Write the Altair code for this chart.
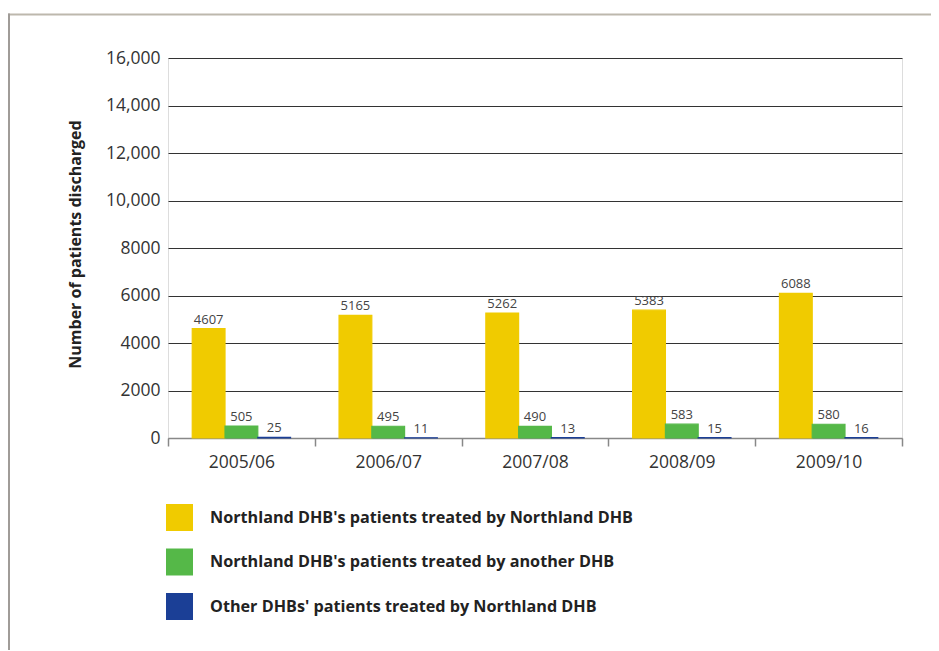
import altair as alt
import pandas as pd

years = ["2005/06", "2006/07", "2007/08", "2008/09", "2009/10"]
series = [
    "Northland DHB's patients treated by Northland DHB",
    "Northland DHB's patients treated by another DHB",
    "Other DHBs' patients treated by Northland DHB",
]
own_by_own = [4607, 5165, 5262, 5383, 6088]
own_by_other = [505, 495, 490, 583, 580]
other_by_own = [25, 11, 13, 15, 16]
colors = ["#F0CB00", "#55B848", "#1B3F96"]
y_ticks = [0, 2000, 4000, 6000, 8000, 10000, 12000, 14000, 16000]

rows = []
for s, vals in zip(series, [own_by_own, own_by_other, other_by_own]):
    for yr, v in zip(years, vals):
        rows.append({"year": yr, "series": s, "value": v})
df = pd.DataFrame(rows)

FONT = "Open Sans"

x_enc = alt.X("year:N", sort=years, title=None,
              scale=alt.Scale(paddingInner=0, paddingOuter=0),
              axis=alt.Axis(labelAngle=0, labelFontSize=17.5, labelColor="#333",
                            labelFont=FONT, labelPadding=7, tickBand="extent",
                            tickSize=8, tickColor="#888", domainColor="#888",
                            domainWidth=1.5, tickWidth=1.5, grid=False))
xoff = alt.XOffset("series:N", sort=series,
                   scale=alt.Scale(paddingOuter=0.74, paddingInner=0))
y_enc = alt.Y("value:Q", title="Number of patients discharged",
              scale=alt.Scale(domain=[0, 16000], nice=False),
              axis=alt.Axis(values=y_ticks, domain=False, ticks=False,
                            labelExpr="datum.value >= 10000 ? format(datum.value, ',') : format(datum.value, 'd')",
                            labelFontSize=17.5, labelColor="#333", labelFont=FONT,
                            labelPadding=8,
                            gridColor=alt.condition("datum.value == 0", alt.value("#888"), alt.value("#333")),
                            gridWidth=1,
                            titleFont=FONT, titleFontSize=16, titleFontWeight="bold",
                            titleColor="#222", titleX=-93, titleY=186,
                            titleAngle=-90, titleAlign="center", titleBaseline="middle"))

color_scale = alt.Scale(domain=series, range=colors)
base = alt.Chart(df)
bars = base.mark_bar(strokeWidth=1.2).encode(
    x=x_enc, xOffset=xoff, y=y_enc,
    color=alt.Color("series:N", sort=series, scale=color_scale,
                    legend=alt.Legend(orient="none", legendX=-2, legendY=446, title=None,
                                      symbolType="square", symbolSize=729,
                                      symbolStrokeWidth=0, labelFont=FONT,
                                      labelFontSize=16.2, labelFontWeight="bold",
                                      labelColor="#222", labelOffset=17,
                                      rowPadding=17.5, padding=0, labelLimit=700)),
    stroke=alt.Stroke("series:N", sort=series, scale=color_scale, legend=None),
)
labels = base.mark_text(baseline="alphabetic", dy=-5, fontSize=13, color="#444",
                        font=FONT).encode(
    x=alt.X("year:N", sort=years), xOffset=alt.XOffset("series:N", sort=series),
    y="value:Q", text="value:Q")

deco = pd.DataFrame({"a": [0]})
top_line = alt.Chart(deco).mark_rule(color="#bdb8ad", strokeWidth=2).encode(
    x=alt.value(-160), x2=alt.value(780), y=alt.value(-43.5), y2=alt.value(-43.5))
left_line = alt.Chart(deco).mark_rule(color="#a09c98", strokeWidth=2).encode(
    x=alt.value(-159), y=alt.value(-44.5), y2=alt.value(640))

chart = alt.layer(top_line, left_line, bars, labels).properties(
    width=734, height=380,
    padding={"left": 160, "top": 50, "right": 29, "bottom": 212},
    autosize=alt.AutoSizeParams(type="none"),
).configure_view(stroke=None).configure(font=FONT)

chart.save("out.html", embed_options={"renderer": "svg", "actions": False})
